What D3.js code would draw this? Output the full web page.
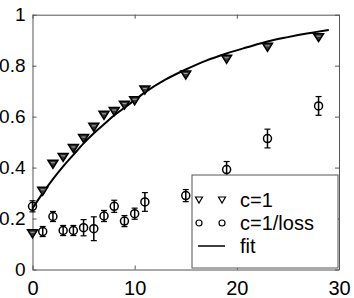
<!DOCTYPE html>
<html>
<head>
<meta charset="utf-8">
<script src="https://cdn.jsdelivr.net/npm/d3@7"></script>
<style>
  body { margin: 0; background: #fff; }
  text { font-family: "Liberation Sans", Arial, sans-serif; fill: #000; }
</style>
</head>
<body>
<script>
// c=1 series (down triangles)
var triX = [0, 1, 2, 3, 4, 5, 6, 7, 8, 9, 10, 11, 15, 19, 23, 28];
var triY = [0.14, 0.307, 0.413, 0.44, 0.475, 0.514, 0.558, 0.605, 0.62, 0.645, 0.662, 0.704, 0.763, 0.825, 0.872, 0.91];

// c=1/loss series (circles) with error half-widths
var circX = [0, 1, 2, 3, 4, 5, 6, 7, 8, 9, 10, 11, 15, 19, 23, 28];
var circY = [0.248, 0.149, 0.208, 0.153, 0.153, 0.164, 0.16, 0.21, 0.248, 0.19, 0.219, 0.265, 0.29, 0.392, 0.514, 0.642];
var circErr = [0.01, 0.008, 0.008, 0.008, 0.008, 0.02, 0.035, 0.01, 0.012, 0.01, 0.01, 0.025, 0.012, 0.02, 0.025, 0.025];

// fit curve
var fitX = [0, 1, 2, 3, 4, 5, 6, 7, 8, 9, 10, 11, 13, 15, 17, 19, 21, 23, 25, 27, 29];
var fitY = [0.24, 0.30, 0.355, 0.405, 0.45, 0.495, 0.535, 0.57, 0.605, 0.635, 0.665, 0.695, 0.745, 0.785, 0.82, 0.848, 0.872, 0.895, 0.912, 0.927, 0.94];

var xTicks = [0, 10, 20, 30];
var yTicks = [0, 0.2, 0.4, 0.6, 0.8, 1];
var legendLabels = ["c=1", "c=1/loss", "fit"];

var W = 354, H = 298;
var margin = { top: 14.7, right: 15, bottom: 28.5, left: 32.5 };
var width = W - margin.left - margin.right;
var height = H - margin.top - margin.bottom;

var svg = d3.select("body").append("svg")
    .attr("width", W)
    .attr("height", H);

var g = svg.append("g")
    .attr("transform", "translate(" + margin.left + "," + margin.top + ")");

var x = d3.scaleLinear().domain([0, 30]).range([0, width]);
var y = d3.scaleLinear().domain([0, 1]).range([height, 0]);

var axisColor = "#555";

// axes with inward ticks (box style)
var xAxis = g.append("g")
    .attr("transform", "translate(0," + height + ")")
    .call(d3.axisBottom(x).tickValues(xTicks).tickSizeInner(-4).tickSizeOuter(0).tickPadding(8).tickFormat(d3.format("d")));
var yAxis = g.append("g")
    .call(d3.axisLeft(y).tickValues(yTicks).tickSizeInner(-4).tickSizeOuter(0).tickPadding(7).tickFormat(function(d) { return d === 0 || d === 1 ? d : d3.format(".1f")(d); }));
g.append("g")
    .call(d3.axisTop(x).tickValues(xTicks).tickSizeInner(-4).tickSizeOuter(0).tickFormat(""));
g.append("g")
    .attr("transform", "translate(" + width + ",0)")
    .call(d3.axisRight(y).tickValues(yTicks).tickSizeInner(-4).tickSizeOuter(0).tickFormat(""));

g.selectAll(".domain").attr("stroke", axisColor);
g.selectAll(".tick line").attr("stroke", axisColor);
g.selectAll(".tick text").style("font-size", "19px").attr("fill", "#000");
xAxis.selectAll(".tick text").style("font-size", "20px").attr("dy", "0.85em");

// fit line
var line = d3.line()
    .x(function(d, i) { return x(fitX[i]); })
    .y(function(d, i) { return y(fitY[i]); })
    .curve(d3.curveMonotoneX);

g.append("path")
    .datum(fitY)
    .attr("d", line)
    .attr("fill", "none")
    .attr("stroke", "#000")
    .attr("stroke-width", 2);

// circles with error bars
var circ = g.selectAll(".circ").data(circY).enter().append("g")
    .attr("class", "circ")
    .attr("transform", function(d, i) { return "translate(" + x(circX[i]) + "," + y(d) + ")"; });

circ.append("line")
    .attr("y1", function(d, i) { return y(d + circErr[i]) - y(d) - 3; })
    .attr("y2", function(d, i) { return y(d - circErr[i]) - y(d) + 3; })
    .attr("stroke", "#000").attr("stroke-width", 1.5);
circ.append("line")
    .attr("x1", -3).attr("x2", 3)
    .attr("y1", function(d, i) { return y(d + circErr[i]) - y(d) - 3; })
    .attr("y2", function(d, i) { return y(d + circErr[i]) - y(d) - 3; })
    .attr("stroke", "#000").attr("stroke-width", 1.2);
circ.append("line")
    .attr("x1", -3).attr("x2", 3)
    .attr("y1", function(d, i) { return y(d - circErr[i]) - y(d) + 3; })
    .attr("y2", function(d, i) { return y(d - circErr[i]) - y(d) + 3; })
    .attr("stroke", "#000").attr("stroke-width", 1.2);
circ.append("circle")
    .attr("r", 4)
    .attr("fill", "none")
    .attr("stroke", "#000")
    .attr("stroke-width", 1.5);

// down triangles
var triPath = "M-5,-4L5,-4L0,4Z";
var tri = g.selectAll(".tri").data(triY).enter().append("g")
    .attr("class", "tri")
    .attr("transform", function(d, i) { return "translate(" + x(triX[i]) + "," + y(d) + ")"; });
tri.append("path")
    .attr("d", triPath)
    .attr("fill", "#333")
    .attr("stroke", "#000")
    .attr("stroke-width", 1.5);
tri.append("line")
    .attr("x1", -2).attr("x2", 2).attr("y1", -1.5).attr("y2", -1.5)
    .attr("stroke", "#aaa").attr("stroke-width", 1);

// legend
var lg = svg.append("g").attr("transform", "translate(192,175)");
lg.append("rect")
    .attr("width", 146).attr("height", 93)
    .attr("fill", "#fff")
    .attr("stroke", axisColor)
    .attr("stroke-width", 1);

var rowY = [25, 48, 71];
lg.selectAll(".lt").data(legendLabels).enter().append("text")
    .attr("x", 48)
    .attr("y", function(d, i) { return rowY[i]; })
    .attr("dy", "0.35em")
    .style("font-size", "20px")
    .text(function(d) { return d; });

[7, 30].forEach(function(px) {
    lg.append("path")
        .attr("d", "M-3.5,-3L3.5,-3L0,3Z")
        .attr("transform", "translate(" + px + "," + rowY[0] + ")")
        .attr("fill", "none").attr("stroke", "#000").attr("stroke-width", 1.2);
    lg.append("circle")
        .attr("cx", px).attr("cy", rowY[1]).attr("r", 3)
        .attr("fill", "none").attr("stroke", "#000").attr("stroke-width", 1.2);
});
lg.append("line")
    .attr("x1", 6).attr("x2", 33)
    .attr("y1", rowY[2]).attr("y2", rowY[2])
    .attr("stroke", "#000").attr("stroke-width", 1.5);
</script>
</body>
</html>
